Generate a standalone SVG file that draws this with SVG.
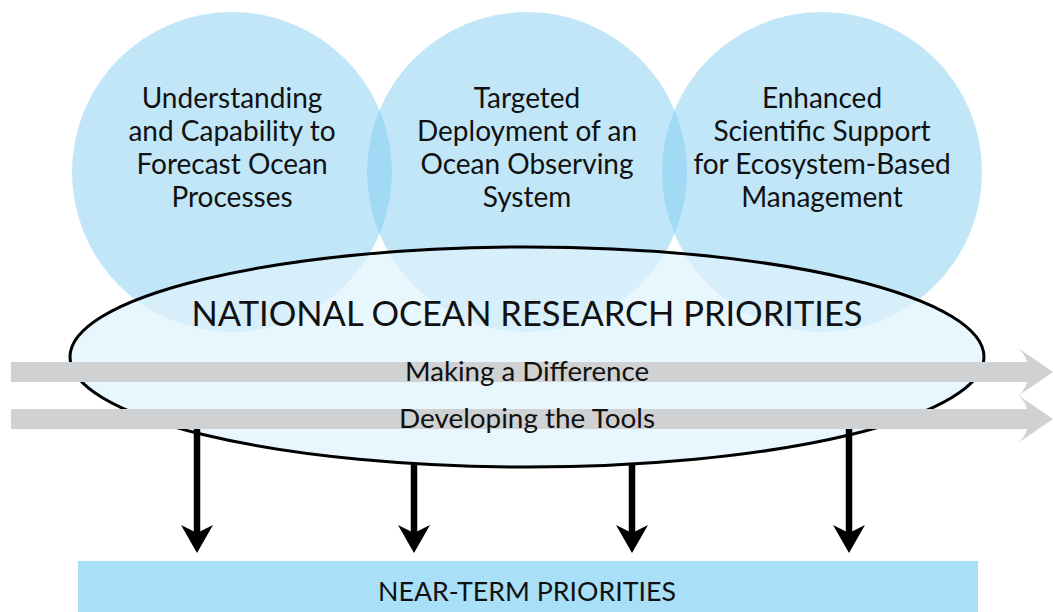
<svg xmlns="http://www.w3.org/2000/svg" width="1053" height="612" viewBox="0 0 1053 612">
<style>
.circ{fill:#84cdf2;fill-opacity:0.5}
.ctext{font-family:Lato,"Open Sans",sans-serif;font-size:28px;fill:#111;text-anchor:middle}
.band{fill:#d0d1d3}
.btext{font-family:Lato,"Open Sans",sans-serif;font-size:26.5px;fill:#111;text-anchor:middle}
.down{stroke:#000;stroke-width:6.5;fill:none;marker-end:url(#head)}
</style>
<defs>
<marker id="head" markerUnits="userSpaceOnUse" viewBox="0 -17 30 34" refX="8" refY="0" markerWidth="30" markerHeight="34" orient="auto">
<path d="M0,-16 L28,0 L0,16 L8,0 Z" fill="#000"/>
</marker>
</defs>
<g id="circle-forecast">
<circle class="circ" cx="232" cy="172" r="160"/>
<text class="ctext"><tspan x="232" y="108">Understanding</tspan><tspan x="232" y="141">and Capability to</tspan><tspan x="232" y="174">Forecast Ocean</tspan><tspan x="232" y="207">Processes</tspan></text>
</g>
<g id="circle-observing">
<circle class="circ" cx="527" cy="172" r="160"/>
<text class="ctext"><tspan x="527" y="108">Targeted</tspan><tspan x="527" y="141">Deployment of an</tspan><tspan x="527" y="174">Ocean Observing</tspan><tspan x="527" y="207">System</tspan></text>
</g>
<g id="circle-ecosystem">
<circle class="circ" cx="822" cy="172" r="160"/>
<text class="ctext"><tspan x="822" y="108">Enhanced</tspan><tspan x="822" y="141">Scientific Support</tspan><tspan x="822" y="174">for Ecosystem-Based</tspan><tspan x="822" y="207">Management</tspan></text>
</g>
<g id="national-priorities">
<ellipse cx="527" cy="357" rx="457" ry="110" fill="#def2fc" fill-opacity="0.7" stroke="#000" stroke-width="3"/>
<text x="527" y="326" font-family="Lato,'Open Sans',sans-serif" font-size="34" fill="#111" text-anchor="middle" textLength="671" lengthAdjust="spacingAndGlyphs">NATIONAL OCEAN RESEARCH PRIORITIES</text>
</g>
<g id="band-difference">
<path class="band" d="M11,362 H1027 Q1025,354 1018,348 L1053,372 L1018,396 Q1025,390 1027,382 H11 Z"/>
<text class="btext" x="527" y="381" textLength="244" lengthAdjust="spacingAndGlyphs">Making a Difference</text>
</g>
<g id="band-tools">
<path class="band" d="M11,409 H1027 Q1025,401 1018,395 L1053,419 L1018,443 Q1025,437 1027,429 H11 Z"/>
<text class="btext" x="527" y="428" textLength="256" lengthAdjust="spacingAndGlyphs">Developing the Tools</text>
</g>
<g id="connectors">
<line class="down" x1="197" y1="429" x2="197" y2="533"/>
<line class="down" x1="414" y1="463" x2="414" y2="533"/>
<line class="down" x1="632" y1="463" x2="632" y2="533"/>
<line class="down" x1="849" y1="429" x2="849" y2="533"/>
</g>
<g id="near-term">
<rect x="78" y="561" width="900" height="51" fill="#aadff8"/>
<text class="btext" x="527" y="601" textLength="298" lengthAdjust="spacingAndGlyphs">NEAR-TERM PRIORITIES</text>
</g>
</svg>
